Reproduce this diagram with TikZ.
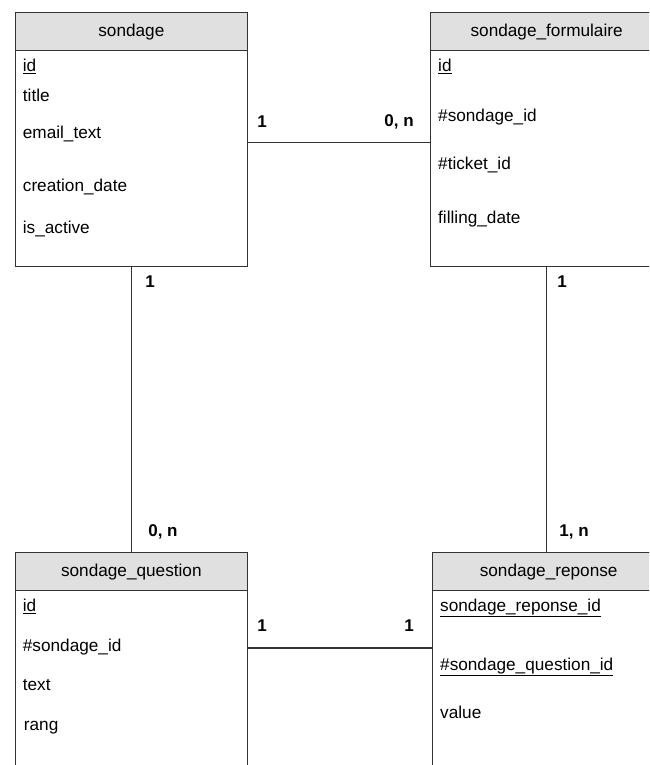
\documentclass[tikz,border=0pt]{standalone}
\usepackage{fontspec}
\setmainfont{Liberation Sans}
\usetikzlibrary{calc}
\definecolor{linec}{HTML}{333333}
\definecolor{headc}{HTML}{E0E0E0}
\tikzset{
  tablebox/.style={draw=linec, line width=1.3pt, fill=white, minimum width=232pt, inner sep=0pt, anchor=north west},
  headbox/.style={draw=linec, line width=1.3pt, fill=headc, minimum width=232pt, minimum height=38pt, inner sep=0pt, anchor=north west, font=\fontsize{17.2}{20}\selectfont},
  attr/.style={anchor=west, inner sep=0pt, text height=0.72em, text depth=0pt, font=\fontsize{17.2}{20}\selectfont},
  card/.style={inner sep=0pt, font=\fontsize{17}{20}\selectfont\bfseries},
  conn/.style={draw=linec, line width=1.3pt}
}
\begin{document}
\begin{tikzpicture}[x=1pt,y=1pt]
\path[use as bounding box, clip] (0,0) rectangle (649,-765);
% sondage
\node[tablebox, minimum height=253.7pt] (sondage) at (14.7,-12) {};
\node[headbox] (sondageh) at (14.7,-12) {sondage};
\node[attr] (s1) at (22.7,-68) {\underline{id}};
\node[attr] (s2) at (22.7,-98) {title};
\node[attr] (s3) at (22.7,-135) {email\_text};
\node[attr] (s4) at (22.7,-188) {creation\_date};
\node[attr] (s5) at (22.7,-230) {is\_active};
% sondage_formulaire
\node[tablebox, minimum height=253.7pt] (form) at (430,-12) {};
\node[headbox] (formh) at (430,-12) {sondage\_formulaire};
\node[attr] (f1) at (438,-68) {\underline{id}};
\node[attr] (f2) at (438,-118) {\#sondage\_id};
\node[attr] (f3) at (438,-166) {\#ticket\_id};
\node[attr] (f4) at (438,-220) {filling\_date};
% sondage_question
\node[tablebox, minimum height=260pt] (question) at (14.7,-552) {};
\node[headbox] (questionh) at (14.7,-552) {sondage\_question};
\node[attr] (q1) at (22.7,-608) {\underline{id}};
\node[attr] (q2) at (22.7,-648) {\#sondage\_id};
\node[attr] (q3) at (22.7,-687) {text};
\node[attr] (q4) at (23.7,-727) {rang};
% sondage_reponse
\node[tablebox, minimum height=260pt] (reponse) at (432,-552) {};
\node[headbox] (reponseh) at (432,-552) {sondage\_reponse};
\node[attr] (r1) at (440,-608) {\underline{sondage\_reponse\_id}};
\node[attr] (r2) at (440,-667) {\underline{\#sondage\_question\_id}};
\node[attr] (r3) at (440,-715) {value};
% connectors
\coordinate (ytop) at (0,-142.5);
\coordinate (ybot) at (0,-648);
\draw[conn] (sondage.east |- ytop) -- (form.west |- ytop);
\draw[conn] (sondage.south) -- (questionh.north);
\draw[conn] (form.south) -- (form.south |- reponseh.north);
\draw[conn] (question.east |- ybot) -- (reponse.west |- ybot);
% cardinalities
\node[card] (c1) at (262,-122) {1};
\node[card] (c2) at (399,-122) {0, n};
\node[card] (c3) at (150,-282) {1};
\node[card] (c4) at (163,-532) {0, n};
\node[card] (c5) at (562,-282) {1};
\node[card] (c6) at (574,-532) {1, n};
\node[card] (c7) at (262,-626) {1};
\node[card] (c8) at (409,-626) {1};
\end{tikzpicture}
\end{document}
